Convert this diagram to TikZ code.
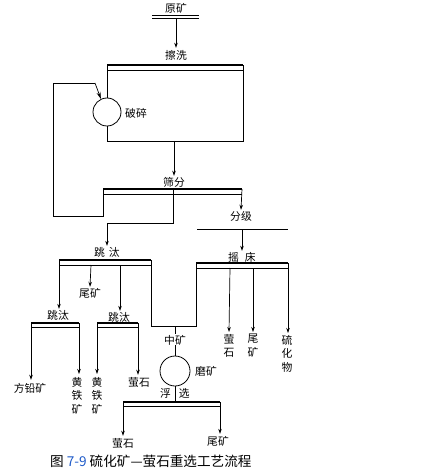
\documentclass[tikz,border=0pt]{standalone}
\usepackage{fontspec}
\newfontfamily\cjk{Noto Sans CJK SC}
\usetikzlibrary{arrows.meta}
\begin{document}
\begin{tikzpicture}[x=1pt,y=-1pt,
  lbl/.style={font=\cjk\fontsize{10.8}{13.5}\selectfont, inner sep=0pt},
  vlbl/.style={lbl, align=center, anchor=north},
  captxt/.style={font=\cjk\fontsize{13.6}{15}\selectfont, inner sep=0pt, anchor=west},
  ln/.style={line width=0.7pt},
  arr/.style={ln,-{Stealth[length=5pt,width=3.5pt]}},
  thickbar/.style={line width=2.2pt},
  thinbar/.style={line width=0.7pt},
  circ/.style={circle,draw,line width=0.8pt,inner sep=0pt}
]
\useasboundingbox (0,0) rectangle (440,473);

% ---------- top ----------
\node[lbl] (yk) at (176,8) {原矿};
\coordinate (ykL) at (152,15); \coordinate (ykR) at (199,15);
\coordinate (ykL2) at (152,18); \coordinate (ykR2) at (199,18);
\draw[thinbar] (ykL) -- (ykR);
\draw[thinbar] (ykL2) -- (ykR2);
\coordinate (ykC) at (176,18);
\node[lbl] (cx) at (176,55) {擦洗};
\draw[arr] (ykC) -- ([yshift=2pt]cx.north);

% washing bar
\coordinate (cxL) at (107,65); \coordinate (cxR) at (243,65);
\coordinate (cxL2) at (107,70); \coordinate (cxR2) at (243,70);
\draw[thickbar] (cxL) -- (cxR);
\draw[thinbar] (cxL2) -- (cxR2);

% crusher
\node[circ, minimum size=28pt] (po) at (107,112) {};
\node[lbl] (poT) at (136,113) {破碎};
\draw[ln] (cxL) -- (po.north);
\coordinate (crB) at (107,141);
\coordinate (crR) at (243,141);
\coordinate (crM) at (174,141);
\draw[ln] (po.south) -- (crB) -- (crR) -- (cxR);

% screening
\node[lbl] (sf) at (174,182) {筛分};
\draw[arr] (crM) -- ([yshift=1pt]sf.north);
\coordinate (sfL) at (103,189); \coordinate (sfR) at (242,189);
\coordinate (sfL2) at (103,194); \coordinate (sfR2) at (242,194);
\draw[thickbar] (sfL) -- (sfR);
\draw[thinbar] (sfL2) -- (sfR2);

% recycle loop to crusher
\coordinate (lp1) at (103,216);
\coordinate (lp2) at (53,216);
\coordinate (lp3) at (53,83);
\coordinate (lp4) at (95,83);
\draw[ln] (sfL) -- (lp1) -- (lp2) -- (lp3) -- (lp4);
\draw[ln,-{Stealth[length=7pt,width=4pt]}] (lp4) -- (po.115);

% classification
\node[lbl] (fj) at (241,216) {分级};
\draw[arr] (sfR) -- ([yshift=1pt]fj.north);
\coordinate (fjL) at (197,229); \coordinate (fjR) at (288,229);
\coordinate (fjM) at (242,229);
\draw[line width=0.8pt] (fjL) -- (fjR);

% shaking table
\node[lbl] (yc) at (242,257) {摇\hspace{6pt}床};
\draw[arr] (fjM) -- ([yshift=1pt]yc.north);
\coordinate (ycL) at (196,263); \coordinate (ycR) at (288,263);
\coordinate (ycL2) at (196,268); \coordinate (ycR2) at (288,268);
\draw[thickbar] (ycL) -- (ycR);
\draw[thinbar] (ycL2) -- (ycR2);
\coordinate (yc1) at (230,268);
\coordinate (yc2) at (253,268);
\node[vlbl] (ycA) at (229,334) {萤\\石};
\node[vlbl] (ycB) at (253,334) {尾\\矿};
\node[vlbl] (ycC) at (287,335) {硫\\化\\物};
\draw[arr] (yc1) -- ([yshift=2pt]ycA.north);
\draw[arr] (yc2) -- ([yshift=2pt]ycB.north);
\draw[arr] (ycR) -- ([yshift=2pt ]ycC.north -| ycR);

% jig 1
\coordinate (sfM) at (173,189);
\coordinate (j0a) at (173,223);
\coordinate (j0b) at (107,223);
\node[lbl] (jt1) at (107,252) {跳\hspace{4pt}汰};
\draw[ln] (sfM) -- (j0a) -- (j0b);
\draw[arr] (j0b) -- ([yshift=1pt]jt1.north);
\coordinate (j1L) at (59,260); \coordinate (j1R) at (151,260);
\coordinate (j1L2) at (59,265); \coordinate (j1R2) at (151,265);
\draw[thickbar] (j1L) -- (j1R);
\draw[thinbar] (j1L2) -- (j1R2);
\coordinate (j1a) at (91,265);
\coordinate (j1b) at (120,265);
\node[lbl] (wk1) at (90,293) {尾矿};
\draw[arr] (j1a) -- ([yshift=1pt]wk1.north);

% middlings
\coordinate (mdA) at (151,326);
\coordinate (mdB) at (196,326);
\coordinate (mdC) at (175,326);
\draw[ln] (j1R) -- (mdA) -- (mdB) -- (ycL);
\node[lbl] (zk) at (175,340) {中矿};
\draw[ln] (mdC) -- ([yshift=1pt]zk.north);
\node[circ, minimum size=30pt] (mo) at (175,371) {};
\node[lbl] (moT) at (206,371) {磨矿};
\draw[ln] (zk.south) -- (mo.north);

% flotation
\node[lbl] (fx) at (175,393) {浮\hspace{8pt}选};
\coordinate (fxM) at (175,402);
\draw[ln] (mo.south) -- (fxM);
\coordinate (fxL) at (123,402); \coordinate (fxR) at (220,402);
\coordinate (fxL2) at (123,406); \coordinate (fxR2) at (220,406);
\draw[thickbar] (fxL) -- (fxR);
\draw[thinbar] (fxL2) -- (fxR2);
\node[lbl] (fxA) at (123,443) {萤石};
\node[lbl] (fxB) at (218,441) {尾矿};
\draw[arr] (fxL) -- ([yshift=2pt]fxA.north);
\draw[arr] (fxR) -- ([yshift=2pt]fxB.north -| fxR);

% jig 2
\node[lbl] (jt2) at (58,315) {跳汰};
\draw[arr] (j1L) -- ([yshift=1pt]jt2.north -| j1L);
\coordinate (j2L) at (31,323); \coordinate (j2R) at (79,323);
\coordinate (j2L2) at (31,327); \coordinate (j2R2) at (79,327);
\draw[thickbar] (j2L) -- (j2R);
\draw[thinbar] (j2L2) -- (j2R2);
\node[lbl] (fq) at (30,388) {方铅矿};
\node[vlbl] (ht1) at (77,377) {黄\\铁\\矿};
\draw[arr] (j2L) -- ([yshift=3pt]fq.north -| j2L);
\draw[arr] (j2R) -- ([yshift=3pt]ht1.north -| j2R);

% jig 3
\node[lbl] (jt3) at (119,317) {跳汰};
\draw[arr] (j1b) -- ([yshift=1pt]jt3.north -| j1b);
\coordinate (j3L) at (97,323); \coordinate (j3R) at (138,323);
\coordinate (j3L2) at (97,327); \coordinate (j3R2) at (138,327);
\draw[thickbar] (j3L) -- (j3R);
\draw[thinbar] (j3L2) -- (j3R2);
\node[vlbl] (ht2) at (97,377) {黄\\铁\\矿};
\node[lbl] (yh) at (139,382) {萤石};
\draw[arr] (j3L) -- ([yshift=3pt]ht2.north -| j3L);
\draw[arr] (j3R) -- ([yshift=2pt]yh.north -| j3R);

% caption
\node[captxt] (capn) at (50,461) {图 \textcolor[RGB]{30,90,200}{7-9} 硫化矿—萤石重选工艺流程};
\end{tikzpicture}
\end{document}
